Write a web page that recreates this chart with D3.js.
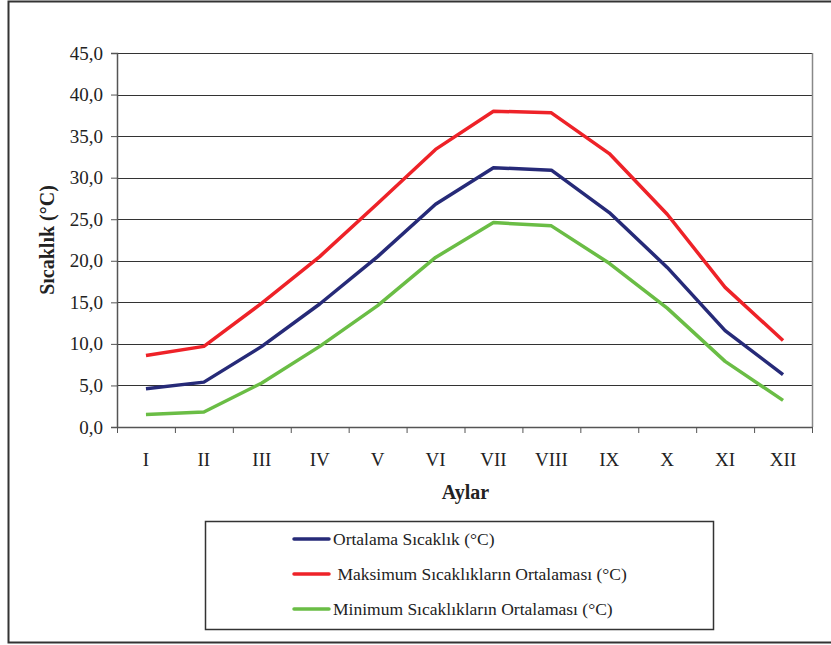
<!DOCTYPE html>
<html>
<head>
<meta charset="utf-8">
<script src="https://cdn.jsdelivr.net/npm/d3@7"></script>
<style>
  body { margin: 0; background: #fff; }
</style>
</head>
<body>
<div id="chart"></div>
<script>
// months (roman numerals)
var months = ["I","II","III","IV","V","VI","VII","VIII","IX","X","XI","XII"];

// series values
var ortalama = [4.6, 5.4, 9.7, 14.8, 20.5, 26.8, 31.2, 30.9, 25.8, 19.2, 11.6, 6.3];
var maksimum = [8.6, 9.7, 14.9, 20.5, 26.9, 33.4, 38.0, 37.8, 32.9, 25.6, 16.8, 10.4];
var minimum  = [1.5, 1.8, 5.3, 9.7, 14.6, 20.4, 24.6, 24.2, 19.7, 14.3, 7.9, 3.2];

var yTicks = [0, 5, 10, 15, 20, 25, 30, 35, 40, 45];

var seriesNames = ["Ortalama Sıcaklık (°C)", " Maksimum Sıcaklıkların Ortalaması (°C)", "Minimum Sıcaklıkların Ortalaması (°C)"];
var seriesColors = ["#262a78", "#ee2228", "#6abd45"];
var seriesData = [ortalama, maksimum, minimum];

var W = 831, H = 645;
var plot = {left: 117, right: 812, top: 53, bottom: 427};
var serif = "'Liberation Serif', 'DejaVu Serif', 'Times New Roman', serif";

var svg = d3.select("#chart").append("svg")
  .attr("width", W).attr("height", H);

// outer frame
svg.append("rect")
  .attr("x", 8.5).attr("y", 1.5)
  .attr("width", 830).attr("height", 641)
  .attr("fill", "none").attr("stroke", "#333").attr("stroke-width", 2);

var x = d3.scaleBand()
  .domain(months)
  .range([plot.left, plot.right]);

var y = d3.scaleLinear()
  .domain([0, 45])
  .range([plot.bottom, plot.top]);

// grid lines
svg.append("g")
  .selectAll("line")
  .data(yTicks.slice(1))
  .enter().append("line")
  .attr("x1", plot.left).attr("x2", plot.right)
  .attr("y1", function(d){ return Math.round(y(d)) + 0.5; })
  .attr("y2", function(d){ return Math.round(y(d)) + 0.5; })
  .attr("stroke", "#333").attr("stroke-width", 1);

// right border of plot area
svg.append("line")
  .attr("x1", plot.right + 0.5).attr("x2", plot.right + 0.5)
  .attr("y1", plot.top).attr("y2", plot.bottom)
  .attr("stroke", "#888").attr("stroke-width", 1.5);

// y axis
var yAxis = svg.append("g")
  .attr("transform", "translate(" + plot.left + ",0)")
  .call(d3.axisLeft(y)
    .tickValues(yTicks)
    .tickSize(6)
    .tickPadding(8)
    .tickFormat(function(d){ return d3.format(".1f")(d).replace(".", ","); }));
yAxis.select(".domain").attr("stroke", "#555").attr("stroke-width", 1.5);
yAxis.selectAll(".tick line").attr("stroke", "#555");
yAxis.selectAll("text").style("font-size", "19px");

// x axis
var xAxis = svg.append("g")
  .attr("transform", "translate(0," + plot.bottom + ")")
  .call(d3.axisBottom(x).tickSize(0).tickPadding(26));
xAxis.select(".domain").attr("stroke", "#555").attr("stroke-width", 1.5);
xAxis.selectAll("text").style("font-size", "19px");

// x tick marks at band boundaries
svg.append("g")
  .selectAll("line")
  .data(months)
  .enter().append("line")
  .attr("x1", function(d){ return x(d) + 0.5; })
  .attr("x2", function(d){ return x(d) + 0.5; })
  .attr("y1", plot.bottom).attr("y2", plot.bottom + 6)
  .attr("stroke", "#555");
svg.append("line")
  .attr("x1", plot.right + 0.5).attr("x2", plot.right + 0.5)
  .attr("y1", plot.bottom).attr("y2", plot.bottom + 6)
  .attr("stroke", "#555");

// axis titles
svg.append("text")
  .attr("transform", "translate(54," + ((plot.top + plot.bottom) / 2) + ") rotate(-90)")
  .attr("text-anchor", "middle")
  .style("font-size", "20px").style("font-weight", "bold")
  .text("Sıcaklık (°C)");

svg.append("text")
  .attr("x", (plot.left + plot.right) / 2 + 1)
  .attr("y", 499)
  .attr("text-anchor", "middle")
  .style("font-size", "20px").style("font-weight", "bold")
  .text("Aylar");

// lines
var line = d3.line()
  .x(function(d, i){ return x(months[i]) + x.bandwidth() / 2; })
  .y(function(d){ return y(d); });

svg.append("g")
  .selectAll("path")
  .data(seriesData)
  .enter().append("path")
  .attr("d", line)
  .attr("fill", "none")
  .attr("stroke", function(d, i){ return seriesColors[i]; })
  .attr("stroke-width", 3.5)
  .attr("stroke-linejoin", "round");

// legend
var legend = svg.append("g");
legend.append("rect")
  .attr("x", 205.5).attr("y", 521.5)
  .attr("width", 508).attr("height", 108)
  .attr("fill", "#fff").attr("stroke", "#333").attr("stroke-width", 1.5);

var items = legend.selectAll("g.item")
  .data(seriesNames)
  .enter().append("g")
  .attr("class", "item")
  .attr("transform", function(d, i){ return "translate(0," + (539 + i * 35) + ")"; });

items.append("line")
  .attr("x1", 294).attr("x2", 329)
  .attr("stroke", function(d, i){ return seriesColors[i]; })
  .attr("stroke-width", 3.5)
  .attr("stroke-linecap", "round");

items.append("text")
  .attr("x", 333).attr("y", 6)
  .style("font-size", "17.5px")
  .style("white-space", "pre")
  .text(function(d){ return d; });

// serif everywhere, like the original
svg.selectAll("g").attr("font-family", null);
svg.selectAll("text")
  .style("font-family", serif)
  .attr("fill", "#222");
</script>
</body>
</html>
